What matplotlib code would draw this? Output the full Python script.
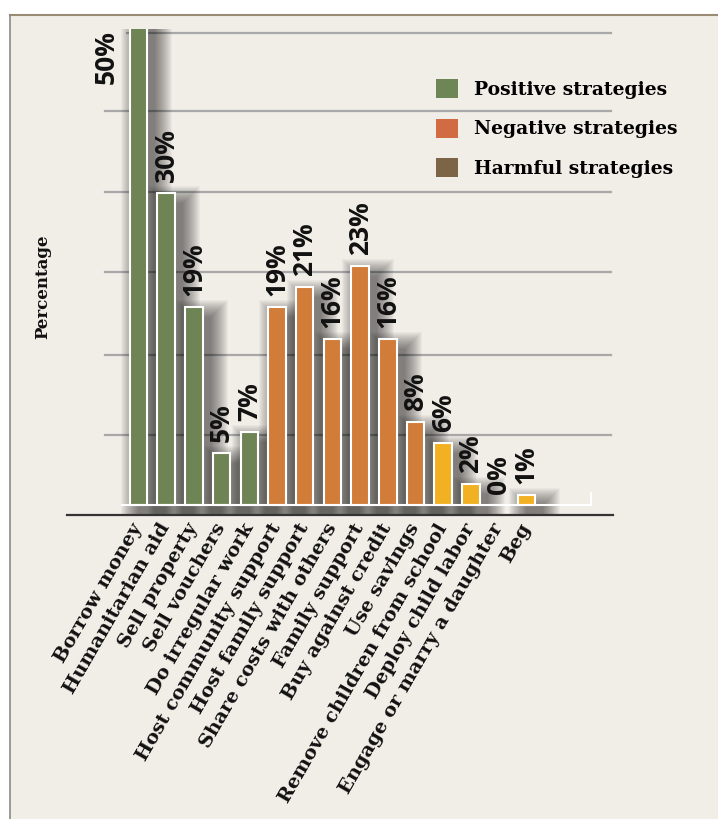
import numpy as np
import matplotlib
matplotlib.use("Agg")
import matplotlib.pyplot as plt
from matplotlib.patches import Rectangle, Patch

# данные
categories = ["Borrow money", "Humanitarian aid", "Sell property", "Sell vouchers",
              "Do irregular work", "Host community support", "Host family support",
              "Share costs with others", "Family support", "Buy against credit",
              "Use savings", "Remove children from school", "Deploy child labor",
              "Engage or marry a daughter", "Beg"]
values = [50, 30, 19, 5, 7, 19, 21, 16, 23, 16, 8, 6, 2, 0, 1]
groups = ["pos"] * 5 + ["neg"] * 6 + ["harm"] * 4
legend_labels = ["Positive strategies", "Negative strategies", "Harmful strategies"]

bar_colors = {"pos": "#6f8455", "neg": "#d27c3a", "harm": "#f2b122"}
legend_colors = ["#6e8655", "#d06b42", "#7c6446"]

W, H = 718, 819
SLAB = ["DejaVu Serif Condensed", "DejaVu Serif"]
SANS = ["Open Sans", "DejaVu Sans"]

fig = plt.figure(figsize=(W / 100, H / 100), dpi=100)
fig.patch.set_facecolor("white")

# фон-рамка
fig.patches.append(Rectangle((9.5 / W, 0), 1, (H - 15) / H, transform=fig.transFigure,
                             facecolor="#f1ede7", edgecolor="none", zorder=-10))
fig.add_artist(plt.Line2D([9.5 / W, 1], [(H - 15) / H] * 2, color="#9a8c74", lw=1.5, zorder=-5))
fig.add_artist(plt.Line2D([9.5 / W] * 2, [0, (H - 15) / H], color="#8a8a8a", lw=1.2, zorder=-5))

# оси в пикселях
left, right, bottom, top = 67, 613, 515, 29
ax = fig.add_axes([left / W, (H - bottom) / H, (right - left) / W, (bottom - top) / H])
ax.set_facecolor("none")
ax.set_zorder(2)

x0, x1 = -2.58, 17.13
y0, y1 = -0.96, 45.77
ax.set_xlim(x0, x1)
ax.set_ylim(y0, y1)
px_x = (x1 - x0) / (right - left)
px_y = (y1 - y0) / (bottom - top)

x = np.arange(len(values))
w = 0.63

# сетка
grid_y = [6.7, 14.4, 22.4, 30.1, 37.9, 45.4]
for gy in grid_y:
    start = -0.41 if gy > 45 else -1.21
    ax.plot([start, 17.06], [gy, gy], color="#a8a8a8", lw=1.6, zorder=1)

# мягкие тени под столбиками (слои с малой прозрачностью)
n_layers = 18
for i, v in enumerate(values):
    if v <= 0:
        continue
    for k in range(n_layers):
        e = (n_layers - 1 - k) * 1.0
        ax.add_patch(Rectangle((i - w / 2 + (8 - e) * px_x, (-10 - e) * px_y),
                               w + 2 * e * px_x, v + (2 * e) * px_y,
                               facecolor="black", edgecolor="none", alpha=0.033, zorder=2))

ax.bar(x, values, width=w, color=[bar_colors[g] for g in groups],
       edgecolor="white", linewidth=1.5, zorder=3)

# белая подложка снизу
ax.plot([-0.6, 16.34, 16.34], [0, 0, 1.15], color="white", lw=1.5, zorder=4)

# подписи значений
for i, v in enumerate(values):
    if v >= y1:
        ax.annotate(f"{v}%", xy=(i, y1), xytext=(-23, -1), textcoords="offset points",
                    rotation=90, ha="center", va="top", fontsize=19,
                    fontweight="bold", family=SANS, color="#111111")
    else:
        ax.annotate(f"{v}%", xy=(i, v), xytext=(0, 8), textcoords="offset points",
                    rotation=90, ha="center", va="bottom", fontsize=19,
                    fontweight="bold", family=SANS, color="#111111")

# оси
for s in ["top", "right", "left"]:
    ax.spines[s].set_visible(False)
ax.spines["bottom"].set_color("#333333")
ax.spines["bottom"].set_linewidth(1.6)
ax.set_yticks([])
ax.set_xticks(x)
ax.set_xticklabels(categories, rotation=60, ha="right", va="center",
                   rotation_mode="anchor", fontsize=14, fontweight="bold",
                   family=SLAB, color="#111111")
ax.tick_params(axis="x", length=0, pad=7)

ax.set_ylabel("Percentage", fontsize=12, fontweight="bold", family=SLAB, color="#111111")
ax.yaxis.set_label_coords(-0.029, 0.47)

# легенда
handles = [Patch(facecolor=c, edgecolor="none") for c in legend_colors]
fig.legend(handles, legend_labels, loc="upper left",
           bbox_to_anchor=(419 / W, 1 - 62 / H), frameon=False,
           prop={"family": SLAB, "weight": "bold", "size": 13.5},
           handlelength=1.2, handleheight=1.2, handletextpad=0.85, labelspacing=1.05)

fig.savefig("out.png", dpi=100)
